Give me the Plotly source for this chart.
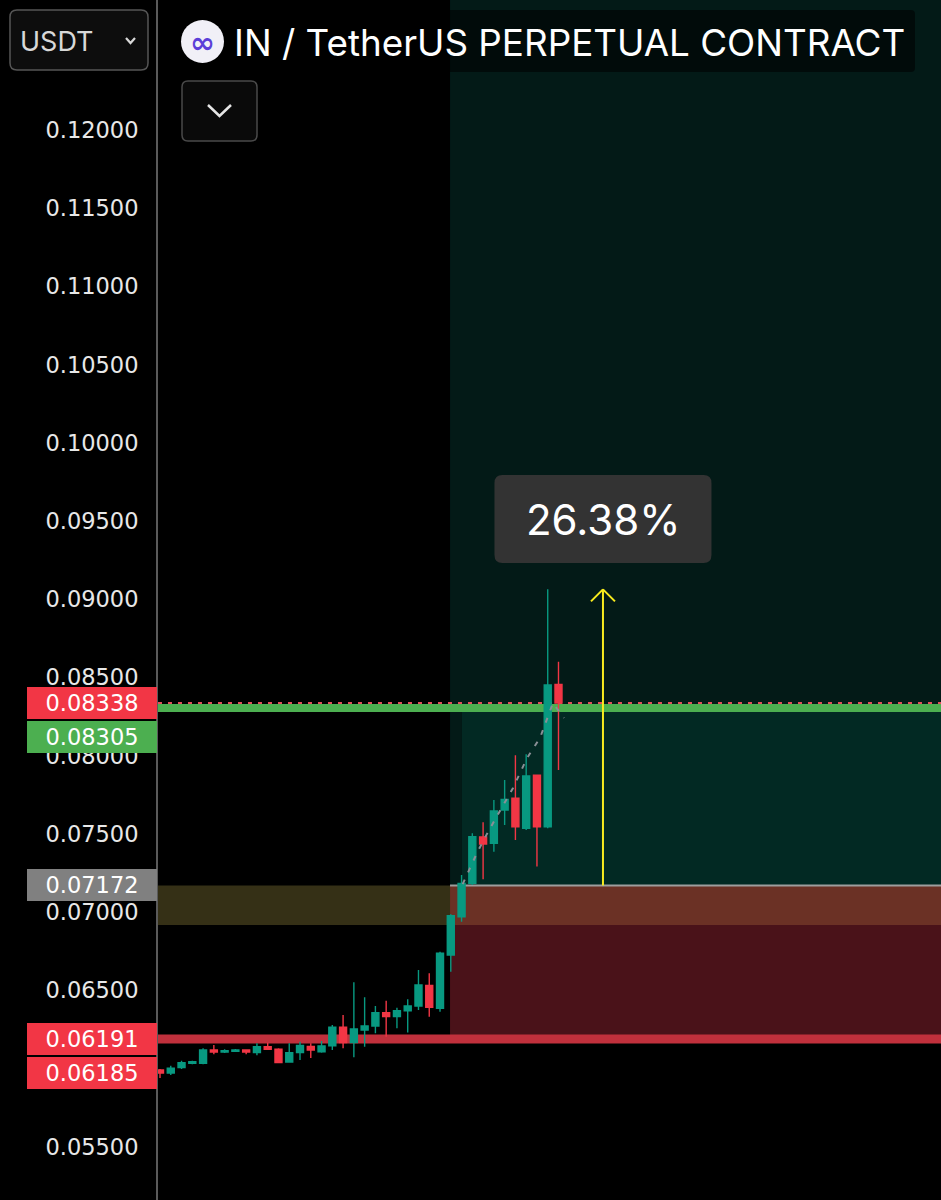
import plotly.graph_objects as go

# ---------------- data ----------------
idx = list(range(38))
opens = [0.05992, 0.05973, 0.06007, 0.06035, 0.06035, 0.06120, 0.06107, 0.06112, 0.06120, 0.06103,
         0.06141, 0.06125, 0.06043, 0.06103, 0.06142, 0.06109, 0.06146, 0.06265, 0.06167, 0.06248,
         0.06273, 0.06358, 0.06333, 0.06371, 0.06401, 0.06532, 0.06387, 0.06727, 0.06972, 0.07185,
         0.07481, 0.07441, 0.07654, 0.07729, 0.07537, 0.07877, 0.07547, 0.08457]
highs = [0.05999, 0.06020, 0.06052, 0.06052, 0.06131, 0.06152, 0.06124, 0.06127, 0.06125, 0.06163,
         0.06167, 0.06131, 0.06163, 0.06173, 0.06163, 0.06178, 0.06280, 0.06344, 0.06553, 0.06457,
         0.06401, 0.06435, 0.06390, 0.06444, 0.06631, 0.06610, 0.06748, 0.06987, 0.07238, 0.07505,
         0.07576, 0.07718, 0.07845, 0.08003, 0.08010, 0.07877, 0.09064, 0.08602]
lows = [0.05941, 0.05960, 0.05999, 0.06029, 0.06029, 0.06093, 0.06101, 0.06107, 0.06093, 0.06086,
        0.06120, 0.06035, 0.06039, 0.06056, 0.06069, 0.06103, 0.06120, 0.06131, 0.06073, 0.06141,
        0.06227, 0.06205, 0.06259, 0.06231, 0.06376, 0.06333, 0.06365, 0.06620, 0.06940, 0.07174,
        0.07212, 0.07387, 0.07558, 0.07462, 0.07526, 0.07292, 0.07537, 0.07910]
closes = [0.05973, 0.06003, 0.06039, 0.06045, 0.06120, 0.06107, 0.06115, 0.06120, 0.06107, 0.06141,
          0.06125, 0.06039, 0.06103, 0.06149, 0.06120, 0.06146, 0.06265, 0.06167, 0.06254, 0.06273,
          0.06358, 0.06333, 0.06371, 0.06401, 0.06535, 0.06393, 0.06738, 0.06978, 0.07185, 0.07483,
          0.07436, 0.07647, 0.07722, 0.07547, 0.07871, 0.07547, 0.08453, 0.08338]

tick_vals = [0.055, 0.060, 0.065, 0.070, 0.075, 0.080, 0.085, 0.090, 0.095, 0.100, 0.105, 0.110, 0.115, 0.120]
tick_text = ["0.05500", "0.06000", "0.06500", "0.07000", "0.07500", "0.08000", "0.08500",
             "0.09000", "0.09500", "0.10000", "0.10500", "0.11000", "0.11500", "0.12000"]

label_prices = [0.08338, 0.08305, 0.07172, 0.06191, 0.06185]
label_colors = ["#f23645", "#4caf50", "#808080", "#f23645", "#f23645"]

last_price = 0.08338
target_price = 0.08305
entry_price = 0.07172
band_low = 0.06919
stop_price = 0.06191

zone_start = 26.93
profit_start = 28.04

path_x = [28.1, 29.43, 30.45, 32.78, 34.08, 35.28, 36.49, 37.51]
path_y = [0.07180, 0.07379, 0.07513, 0.07795, 0.07986, 0.08114, 0.08338, 0.08242]

arrow_x = 41.13
arrow_top = 0.09064
change_text = "26.38%"
change_label_price = 0.09513

title_text = "IN / TetherUS PERPETUAL CONTRACT"
currency_text = "USDT"

# ---------------- geometry ----------------
W, H = 941, 1200
L = 158
PW = W - L
xr = [-0.1857, 72.516]
yr = [0.051612, 0.128309]

UP = "#089981"
DN = "#f23645"
FONT = "Inter"
AXFONT = "DejaVu Sans"


def X(px):
    return (px - L) / PW


def Y(py):
    return 1 - py / H


def dpx(i):
    return L + (i - xr[0]) / (xr[1] - xr[0]) * PW


def dpy(p):
    return (yr[1] - p) / (yr[1] - yr[0]) * H


def rr_path(x0, y0, x1, y1, r):
    return (f"M {X(x0 + r)},{Y(y0)} L {X(x1 - r)},{Y(y0)} Q {X(x1)},{Y(y0)} {X(x1)},{Y(y0 + r)} "
            f"L {X(x1)},{Y(y1 - r)} Q {X(x1)},{Y(y1)} {X(x1 - r)},{Y(y1)} "
            f"L {X(x0 + r)},{Y(y1)} Q {X(x0)},{Y(y1)} {X(x0)},{Y(y1 - r)} "
            f"L {X(x0)},{Y(y0 + r)} Q {X(x0)},{Y(y0)} {X(x0 + r)},{Y(y0)} Z")


fig = go.Figure()
fig.add_trace(go.Candlestick(
    x=idx, open=opens, high=highs, low=lows, close=closes,
    increasing=dict(line=dict(color=UP, width=1.4), fillcolor=UP),
    decreasing=dict(line=dict(color=DN, width=1.4), fillcolor=DN),
    whiskerwidth=0, hoverinfo="skip", showlegend=False))
fig.add_trace(go.Scatter(
    x=path_x, y=path_y, mode="lines",
    line=dict(color="#8a8f96", width=2, dash="5px,8px"),
    hoverinfo="skip", showlegend=False))

shapes = []
# zones
shapes.append(dict(type="rect", xref="x", yref="y", x0=zone_start, x1=xr[1], y0=entry_price, y1=yr[1],
                   fillcolor="#031a17", line_width=0, layer="below"))
shapes.append(dict(type="rect", xref="x", yref="y", x0=profit_start, x1=xr[1], y0=entry_price, y1=target_price,
                   fillcolor="#022923", line_width=0, layer="below"))
shapes.append(dict(type="rect", xref="x", yref="y", x0=zone_start, x1=xr[1], y0=stop_price, y1=entry_price,
                   fillcolor="#4a1219", line_width=0, layer="below"))
shapes.append(dict(type="rect", xref="x", yref="y", x0=xr[0], x1=zone_start, y0=band_low, y1=entry_price,
                   fillcolor="#353016", line_width=0, layer="below"))
shapes.append(dict(type="rect", xref="x", yref="y", x0=zone_start, x1=xr[1], y0=band_low, y1=entry_price,
                   fillcolor="#6b3125", line_width=0, layer="below"))
# lines
shapes.append(dict(type="line", xref="x", yref="y", x0=xr[0], x1=xr[1], y0=target_price, y1=target_price,
                   line=dict(color="#4caf50", width=8), layer="below"))
shapes.append(dict(type="line", xref="x", yref="y", x0=xr[0], x1=xr[1], y0=stop_price, y1=stop_price,
                   line=dict(color="#c0303c", width=9), layer="below"))
shapes.append(dict(type="line", xref="x", yref="y", x0=zone_start, x1=xr[1], y0=entry_price, y1=entry_price,
                   line=dict(color="#9e9e9e", width=2), layer="below"))
shapes.append(dict(type="line", xref="x", yref="y", x0=xr[0], x1=xr[1], y0=last_price, y1=last_price,
                   line=dict(color="#e0505a", width=2, dash="4px,6px"), layer="below"))
# yellow arrow
head_dx = 12 / (PW / (xr[1] - xr[0]))
head_dy = 12 * (yr[1] - yr[0]) / H
ycol = "#f7ea1e"
shapes.append(dict(type="line", xref="x", yref="y", x0=arrow_x, x1=arrow_x, y0=entry_price, y1=arrow_top,
                   line=dict(color=ycol, width=2)))
shapes.append(dict(type="line", xref="x", yref="y", x0=arrow_x - head_dx, x1=arrow_x, y0=arrow_top - head_dy,
                   y1=arrow_top, line=dict(color=ycol, width=2)))
shapes.append(dict(type="line", xref="x", yref="y", x0=arrow_x + head_dx, x1=arrow_x, y0=arrow_top - head_dy,
                   y1=arrow_top, line=dict(color=ycol, width=2)))
# change label box
cx, cy = dpx(arrow_x), dpy(change_label_price)
shapes.append(dict(type="path", xref="paper", yref="paper",
                   path=rr_path(cx - 108.5, cy - 44, cx + 108.5, cy + 44, 8),
                   fillcolor="#333333", line_width=0))

# header UI
shapes.append(dict(type="path", xref="paper", yref="paper", path=rr_path(170, 10, 915, 72, 4),
                   fillcolor="rgba(0,0,0,0.55)", line_width=0))
shapes.append(dict(type="path", xref="paper", yref="paper", path=rr_path(10, 10, 148, 70, 7),
                   fillcolor="#0d0d0d", line=dict(color="#555555", width=1.5)))
shapes.append(dict(type="path", xref="paper", yref="paper",
                   path=f"M {X(126)},{Y(38)} L {X(130.5)},{Y(43)} L {X(135)},{Y(38)}",
                   line=dict(color="#d8d8d8", width=2.2)))
shapes.append(dict(type="path", xref="paper", yref="paper", path=rr_path(182, 81, 257, 141, 6),
                   fillcolor="#0a0a0a", line=dict(color="#4a4a4a", width=1.5)))
shapes.append(dict(type="path", xref="paper", yref="paper",
                   path=f"M {X(208)},{Y(105)} L {X(219.5)},{Y(116)} L {X(231)},{Y(105)}",
                   line=dict(color="#e6e6e6", width=2.5)))
shapes.append(dict(type="circle", xref="paper", yref="paper", x0=X(181), x1=X(224), y0=Y(20), y1=Y(63),
                   fillcolor="#f1f0f7", line_width=0))

annotations = []
annotations.append(dict(xref="paper", yref="paper", x=X(232), y=Y(42), xanchor="left", yanchor="middle",
                        text=title_text, showarrow=False,
                        font=dict(family=FONT, size=36.8, color="#ffffff")))
annotations.append(dict(xref="paper", yref="paper", x=X(202.5), y=Y(42), xanchor="center", yanchor="middle",
                        text="<b>∞</b>", showarrow=False,
                        font=dict(family="DejaVu Sans", size=30, color="#5b3fd8")))
annotations.append(dict(xref="paper", yref="paper", x=X(18), y=Y(41), xanchor="left", yanchor="middle",
                        text=currency_text, showarrow=False,
                        font=dict(family=FONT, size=27, color="#d8d8d8")))
annotations.append(dict(xref="x", yref="y", x=arrow_x, y=change_label_price, xanchor="center",
                        yanchor="middle", text=change_text, showarrow=False,
                        font=dict(family=FONT, size=42, color="#ffffff")))

# price labels on the axis with simple overlap avoidance
unit = (yr[1] - yr[0]) / H
gap = 34 * unit
order = sorted(range(len(label_prices)), key=lambda k: -label_prices[k])
placed = {}
prev = None
for k in order:
    p = label_prices[k]
    if prev is not None and prev - p < gap:
        p = prev - gap
    placed[k] = p
    prev = p
for k in range(len(label_prices)):
    annotations.append(dict(xref="paper", yref="y", x=X(157), y=placed[k], xanchor="right",
                            yanchor="middle", text=f"{label_prices[k]:.5f}", showarrow=False,
                            bgcolor=label_colors[k], borderwidth=0, borderpad=2, width=126, height=28,
                            align="center", font=dict(family=AXFONT, size=22.5, color="#ffffff")))

fig.update_layout(
    width=W, height=H,
    margin=dict(l=L, r=0, t=0, b=0),
    paper_bgcolor="#000000", plot_bgcolor="#000000",
    shapes=shapes, annotations=annotations,
    boxgap=0.35, boxgroupgap=0,
    showlegend=False,
    xaxis=dict(range=xr, visible=False, rangeslider=dict(visible=False), showgrid=False, fixedrange=True),
    yaxis=dict(range=yr, side="left", tickvals=tick_vals, ticktext=tick_text, showgrid=False,
               zeroline=False, showline=True, linecolor="#5a5a5a", linewidth=2, ticks="",
               ticklabelstandoff=13, tickfont=dict(family=AXFONT, size=22.5, color="#e8e8e8"),
               fixedrange=True),
)

fig.write_html("out.html", config={"displayModeBar": False},
               post_script="document.body.style.margin='0';document.body.style.overflow='hidden';")
